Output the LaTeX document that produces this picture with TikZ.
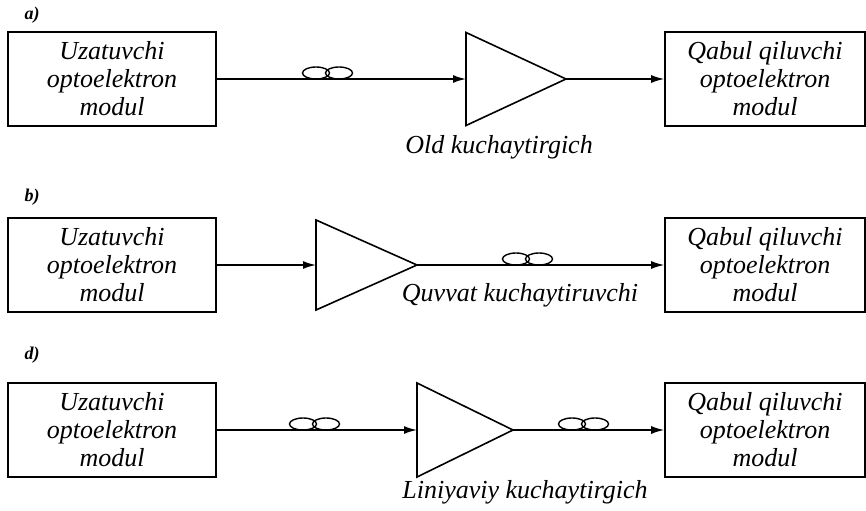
\documentclass[tikz,border=0pt]{standalone}
\usepackage{fontspec}
\setmainfont{Liberation Serif}
\usetikzlibrary{shapes.geometric,arrows.meta}

\begin{document}
\begin{tikzpicture}[x=0.5pt,y=-0.5pt,
        modul/.style={draw, line width=0.8pt, minimum width=104pt, minimum height=47pt,
            inner sep=0pt, align=center, font=\fontsize{13}{14}\selectfont\itshape},
        kuch/.style={draw, line width=0.8pt, isosceles triangle, isosceles triangle stretches,
            minimum width=46.5pt, minimum height=50pt, inner sep=0pt, outer sep=0pt,
            anchor=lower side},
        strelka/.style={line width=0.8pt, -{Latex[length=6.5pt,width=4pt]}},
        yozuv/.style={font=\fontsize{13}{14}\selectfont\itshape},
        harf/.style={font=\fontsize{9}{10}\selectfont\bfseries\itshape}]
        \fill[white] (0,0) rectangle (866,506);

        % a) qator
        \node[harf] (ha) at (32,15) {a)};
        \node[modul] (uzata) at (112,79) {Uzatuvchi\\optoelektron\\modul};
        \node[kuch] (olda) at (466,79) {};
        \node[modul, minimum width=100pt] (qabula) at (765,79) {Qabul qiluvchi\\optoelektron\\modul};
        \draw[strelka] (uzata) -- (olda.lower side);
        \draw[strelka] (olda.apex) -- (qabula);
        \node[yozuv] (nomia) at (499,147) {Old kuchaytirgich};

        % b) qator
        \node[harf] (hb) at (32,197) {b)};
        \node[modul] (uzatb) at (112,265) {Uzatuvchi\\optoelektron\\modul};
        \node[kuch, minimum width=45pt, minimum height=50.5pt] (quvb) at (316,265) {};
        \node[modul, minimum width=100pt] (qabulb) at (765,265) {Qabul qiluvchi\\optoelektron\\modul};
        \draw[strelka] (uzatb) -- (quvb.lower side);
        \draw[strelka] (quvb.apex) -- (qabulb);
        \node[yozuv] (nomib) at (520,295) {Quvvat kuchaytiruvchi};

        % d) qator
        \node[harf] (hd) at (32,355) {d)};
        \node[modul] (uzatd) at (112,430) {Uzatuvchi\\optoelektron\\modul};
        \node[kuch, minimum width=47pt, minimum height=48pt] (lind) at (417,430) {};
        \node[modul, minimum width=100pt] (qabuld) at (765,430) {Qabul qiluvchi\\optoelektron\\modul};
        \draw[strelka] (uzatd) -- (lind.lower side);
        \draw[strelka] (lind.apex) -- (qabuld);
        \node[yozuv] (nomid) at (525,492) {Liniyaviy kuchaytirgich};

        % tolali g'altaklar
        \foreach \cx/\cy in {316/79, 516/265, 303/430, 572/430} {
            \draw[line width=0.7pt] (\cx,\cy-6) ellipse [x radius=6.75pt, y radius=3pt];
            \draw[line width=0.7pt] (\cx+23,\cy-6) ellipse [x radius=6.75pt, y radius=3pt];
        }
\end{tikzpicture}
\end{document}
